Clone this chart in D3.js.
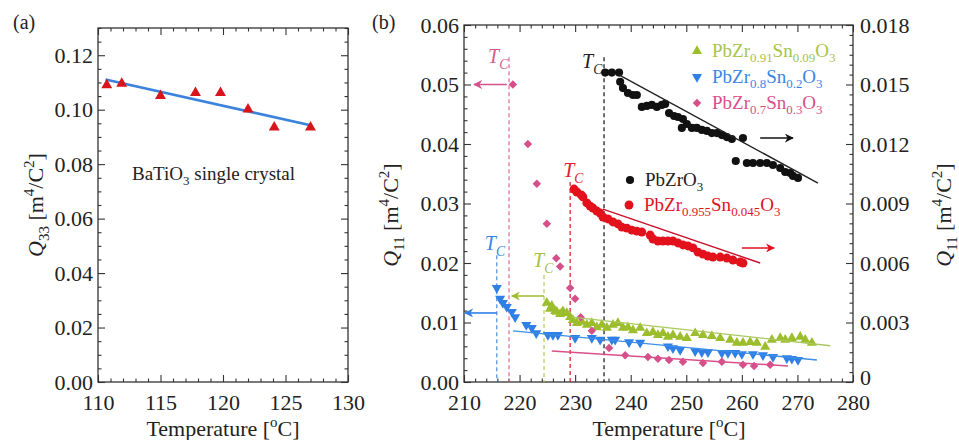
<!DOCTYPE html>
<html><head><meta charset="utf-8">
<script src="https://cdn.jsdelivr.net/npm/d3@7"></script>
<style>body{margin:0;background:#fff} svg{display:block} text{font-family:"Liberation Serif","Times New Roman",serif;fill:#222}</style>
</head><body><svg id="c" width="959" height="440"></svg>
<script>
// ---------- Panel (a) data: BaTiO3 single crystal ----------
const aTemp = [110.7, 111.9, 115.0, 117.8, 119.8, 122.0, 124.1, 127.0];
const aQ33  = [0.1090, 0.1096, 0.1051, 0.1062, 0.1062, 0.1001, 0.0935, 0.0935];
const aFitT = [110.6, 127.0];
const aFitQ = [0.1111, 0.0943];
const aXTicks = [110, 115, 120, 125, 130];
const aYTicks = [0, 0.02, 0.04, 0.06, 0.08, 0.10, 0.12];

// ---------- Panel (b) data ----------
// PbZrO3 (right axis)
const pzoT = [235.4,236.6,237.9,238.1,238.6,239.5,240.4,241.1,242.0,242.9,243.8,244.7,245.6,246.2,246.9,247.8,248.5,249.2,249.4,250.1,251.0,251.9,252.8,253.7,254.6,255.5,256.4,257.3,258.2,260.2,258.9,260.9,262.0,263.3,264.5,265.6,266.9,267.8,268.7,269.2,270.1];
const pzoQ = [0.01560,0.01560,0.01560,0.01514,0.01482,0.01457,0.01447,0.01447,0.01387,0.01392,0.01397,0.01387,0.01397,0.01402,0.01356,0.01341,0.01336,0.01281,0.01326,0.01301,0.01281,0.01281,0.01271,0.01266,0.01255,0.01255,0.01245,0.01235,0.01225,0.01230,0.01114,0.01104,0.01104,0.01104,0.01104,0.01094,0.01079,0.01059,0.01054,0.01039,0.01029];
// PbZr0.955Sn0.045O3 (right axis)
const s045T = [229.8,230.3,231.1,231.4,232.1,232.7,233.2,233.9,234.5,235.0,235.9,236.8,237.7,238.4,239.3,240.2,241.1,242.0,243.5,244.0,244.9,245.8,246.7,247.6,248.5,249.4,250.3,251.2,252.1,253.0,253.9,254.8,256.1,257.3,258.4,259.7,260.2];
const s045Q = [0.00973,0.00958,0.00943,0.00933,0.00903,0.00887,0.00877,0.00862,0.00852,0.00832,0.00822,0.00807,0.00797,0.00781,0.00776,0.00766,0.00761,0.00756,0.00741,0.00721,0.00711,0.00711,0.00711,0.00711,0.00701,0.00691,0.00686,0.00676,0.00655,0.00645,0.00635,0.00630,0.00630,0.00625,0.00615,0.00605,0.00600];
// PbZr0.91Sn0.09O3 (left axis)
const s09T = [224.9,225.5,225.8,226.4,226.7,227.3,227.8,228.5,229.1,229.6,230.3,231.2,232.1,233.0,233.9,234.8,235.7,236.8,237.7,238.6,239.5,240.4,241.7,242.9,244.0,244.9,245.8,246.7,247.6,248.9,250.1,251.6,253.0,254.6,256.1,257.9,259.1,260.2,261.5,262.7,264.2,265.4,266.9,267.8,269.0,270.5,271.4,272.6];
const s09Q = [0.0133,0.0123,0.0128,0.0119,0.0118,0.0114,0.0119,0.0116,0.0109,0.0104,0.0099,0.0101,0.0096,0.0099,0.0092,0.0096,0.0091,0.0096,0.0099,0.0091,0.0092,0.0087,0.0091,0.0082,0.0084,0.0079,0.0082,0.0076,0.0079,0.0076,0.0074,0.0082,0.0079,0.0077,0.0074,0.0071,0.0066,0.0066,0.0067,0.0066,0.0059,0.0071,0.0074,0.0071,0.0074,0.0076,0.0071,0.0066];
// PbZr0.8Sn0.2O3 (left axis)
const s20T = [215.9,216.5,217.0,217.7,218.6,219.2,221.2,222.2,223.0,225.1,226.0,226.9,230.0,233.0,234.5,236.6,237.2,239.7,241.7,246.7,247.6,248.9,251.6,252.8,253.9,256.4,257.5,258.8,260.0,262.0,263.8,265.6,268.1,269.0,270.1];
const s20Q = [0.0158,0.0140,0.0133,0.0126,0.0118,0.0109,0.0096,0.0091,0.0082,0.0079,0.0079,0.0079,0.0074,0.0074,0.0071,0.0071,0.0071,0.0067,0.0066,0.0060,0.0057,0.0054,0.0052,0.0050,0.0050,0.0049,0.0049,0.0049,0.0047,0.0047,0.0045,0.0042,0.0040,0.0039,0.0037];
// PbZr0.7Sn0.3O3 (left axis)
const s30T = [218.8,221.5,223.1,224.9,226.6,227.3,229.1,230.0,231.0,233.0,236.1,239.0,243.1,244.9,246.9,249.4,253.0,256.4,260.2,262.2,265.1];
const s30Q = [0.0500,0.0400,0.0333,0.0266,0.0208,0.0194,0.0158,0.0140,0.0109,0.0086,0.0057,0.0045,0.0042,0.0039,0.0037,0.0034,0.0032,0.0034,0.0029,0.0027,0.0029];

// linear fits [T1, T2], [Q1, Q2]
const fitPzoT = [237.9, 273.7], fitPzoQ = [0.01548, 0.01003];   // right axis
const fit045T = [235.0, 263.3], fit045Q = [0.00872, 0.00600];   // right axis
const fit09T  = [229.4, 275.9], fit09Q  = [0.0109, 0.0061];     // left axis
const fit20T  = [218.8, 273.5], fit20Q  = [0.0086, 0.0037];     // left axis
const fit30T  = [225.8, 268.3], fit30Q  = [0.0052, 0.0027];     // left axis

// Curie temperatures (order: PbZrO3, 0.045, 0.09, 0.2, 0.3) and top of dashed marker (left-axis units)
const tcT   = [235.2, 229.1, 224.4, 215.9, 218.1];
const tcTop = [0.0546, 0.0336, 0.0180, 0.0213, 0.0546];

const bXTicks  = [210, 220, 230, 240, 250, 260, 270, 280];
const bYLTicks = [0, 0.01, 0.02, 0.03, 0.04, 0.05, 0.06];
const bYRTicks = [0, 0.003, 0.006, 0.009, 0.012, 0.015, 0.018];

// ---------- drawing ----------
const svg = d3.select("#c");
const C = {black:"#111", red:"#e2111b", green:"#9cbd2c", blue:"#2f7fe6", pink:"#d5508a"};
const FS = 22;

function rich(sel, parts, size) {
  let shift = 0;
  parts.forEach(p => {
    const ts = sel.append("tspan").text(p.t);
    const target = p.sub ? size*0.28 : p.sup ? -size*0.42 : 0;
    ts.attr("dy", target - shift); shift = target;
    if (p.sub || p.sup) ts.attr("font-size", size*0.68);
    if (p.it) ts.attr("font-style", "italic");
  });
  return sel;
}
function range(a, b, step) { const n = Math.round((b-a)/step); return d3.range(n+1).map(i => +(a + i*step).toFixed(6)); }

function axes(g, x, y, xMaj, xMin, yMaj, yMin, yFmt, yR, yRMaj, yRMin, yRFmt) {
  const isMaj = (arr) => (v) => !arr.some(m => Math.abs(m-v) < 1e-9);
  const [x0, x1] = x.range(), [y0, y1] = y.range();
  const mk = (ax) => g.append("g").call(ax).call(s => s.select(".domain").remove())
      .call(s => s.selectAll("line").attr("stroke", "#333").attr("stroke-width", 1.1))
      .call(s => s.selectAll("text").attr("font-size", FS).attr("font-family", "Liberation Serif").attr("fill", "#222"));
  // bottom
  mk(d3.axisBottom(x).tickValues(xMaj).tickSize(-7).tickPadding(12)).attr("transform", `translate(0,${y0})`);
  mk(d3.axisBottom(x).tickValues(xMin.filter(isMaj(xMaj))).tickSize(-3.5).tickFormat("")).attr("transform", `translate(0,${y0})`);
  // top
  mk(d3.axisTop(x).tickValues(xMaj).tickSize(-7).tickFormat("")).attr("transform", `translate(0,${y1})`);
  mk(d3.axisTop(x).tickValues(xMin.filter(isMaj(xMaj))).tickSize(-3.5).tickFormat("")).attr("transform", `translate(0,${y1})`);
  // left
  mk(d3.axisLeft(y).tickValues(yMaj).tickSize(-7).tickPadding(5).tickFormat(yFmt)).attr("transform", `translate(${x0},0)`);
  mk(d3.axisLeft(y).tickValues(yMin.filter(isMaj(yMaj))).tickSize(-3.5).tickFormat("")).attr("transform", `translate(${x0},0)`);
  // right
  if (yR) {
    const r = mk(d3.axisRight(yR).tickValues(yRMaj).tickSize(-7).tickPadding(7).tickFormat(yRFmt)).attr("transform", `translate(${x1},0)`);
    r.selectAll("text").filter(d => d === 0).attr("dy", "0.12em");
    mk(d3.axisRight(yR).tickValues(yRMin.filter(isMaj(yRMaj))).tickSize(-3.5).tickFormat("")).attr("transform", `translate(${x1},0)`);
  } else {
    mk(d3.axisRight(y).tickValues(yMaj).tickSize(-7).tickFormat("")).attr("transform", `translate(${x1},0)`);
    mk(d3.axisRight(y).tickValues(yMin.filter(isMaj(yMaj))).tickSize(-3.5).tickFormat("")).attr("transform", `translate(${x1},0)`);
  }
  g.append("rect").attr("x", x0).attr("y", y1).attr("width", x1-x0).attr("height", y0-y1)
    .attr("fill", "none").attr("stroke", "#333").attr("stroke-width", 1.3);
}

// ===== Panel (a) =====
const ga = svg.append("g");
const xa = d3.scaleLinear().domain([110, 130]).range([98, 348]);
const ya = d3.scaleLinear().domain([0, 0.13]).range([382, 28]);
axes(ga, xa, ya, aXTicks, range(110, 130, 1), aYTicks, range(0, 0.13, 0.005), d3.format(".2f"));

ga.append("line").attr("x1", xa(aFitT[0])).attr("y1", ya(aFitQ[0])).attr("x2", xa(aFitT[1])).attr("y2", ya(aFitQ[1]))
  .attr("stroke", "#3a82dc").attr("stroke-width", 2.6);
ga.selectAll("path.tri").data(aTemp).join("path").attr("class", "tri")
  .attr("d", d3.symbol(d3.symbolTriangle, 52)())
  .attr("transform", (d, i) => `translate(${xa(d)},${ya(aQ33[i])})`)
  .attr("fill", "#d8141c");

rich(ga.append("text").attr("x", 132).attr("y", 180).attr("font-size", 19),
  [{t:"BaTiO"}, {t:"3", sub:true}, {t:" single crystal"}], 19);

ga.append("text").attr("x", 13).attr("y", 29).attr("font-size", 20).text("(a)");
rich(ga.append("text").attr("text-anchor", "middle").attr("font-size", FS)
  .attr("transform", "translate(43,205) rotate(-90)"),
  [{t:"Q", it:true}, {t:"33", sub:true}, {t:" [m"}, {t:"4", sup:true}, {t:"/C"}, {t:"2", sup:true}, {t:"]"}], FS);
rich(ga.append("text").attr("text-anchor", "middle").attr("x", 223).attr("y", 436).attr("font-size", FS),
  [{t:"Temperature ["}, {t:"o", sup:true}, {t:"C]"}], FS);

// ===== Panel (b) =====
const gb = svg.append("g");
const xb = d3.scaleLinear().domain([210, 280]).range([464, 853]);
const yL = d3.scaleLinear().domain([0, 0.06]).range([382, 25]);
const yR = d3.scaleLinear().domain([0, 0.018]).range([382, 25]);
axes(gb, xb, yL, bXTicks, range(210, 280, 2), bYLTicks, range(0, 0.06, 0.002), d3.format(".2f"),
  yR, bYRTicks, range(0, 0.018, 0.0005), d => d === 0 ? "0" : d3.format(".3f")(d));

const series = [
  {T:pzoT, Q:pzoQ, y:yR, col:C.black, sym:"circle", fT:fitPzoT, fQ:fitPzoQ, lc:"#222"},
  {T:s045T, Q:s045Q, y:yR, col:C.red, sym:"circleL", fT:fit045T, fQ:fit045Q, lc:"#c8102a"},
  {T:s09T, Q:s09Q, y:yL, col:C.green, sym:"up", fT:fit09T, fQ:fit09Q, lc:"#a9c85e"},
  {T:s20T, Q:s20Q, y:yL, col:C.blue, sym:"down", fT:fit20T, fQ:fit20Q, lc:"#3c8ee6"},
  {T:s30T, Q:s30Q, y:yL, col:C.pink, sym:"diamond", fT:fit30T, fQ:fit30Q, lc:"#d9508a"}
];
function symPath(s) {
  if (s === "circle") return d3.symbol(d3.symbolCircle, 52)();
  if (s === "circleL") return d3.symbol(d3.symbolCircle, 62)();
  if (s === "up" || s === "down") return d3.symbol(d3.symbolTriangle, 44)();
  return d3.symbol(d3.symbolSquare, 36)();
}
function symRot(s) { return s === "down" ? " rotate(180)" : s === "diamond" ? " rotate(45)" : ""; }

// Tc dashed lines
const tcCol = [C.black, C.red, "#b6cc55", "#4a8fe0", "#d86a98"];
tcT.forEach((t, i) => {
  gb.append("line").attr("x1", xb(t)).attr("x2", xb(t)).attr("y1", yL(tcTop[i])).attr("y2", yL(0))
    .attr("stroke", tcCol[i]).attr("stroke-width", 1.2).attr("stroke-dasharray", "4,3");
});

// points
series.forEach(s => {
  gb.append("g").selectAll("path").data(s.T).join("path")
    .attr("d", symPath(s.sym))
    .attr("transform", (d, i) => `translate(${xb(d)},${s.y(s.Q[i])})${symRot(s.sym)}`)
    .attr("fill", s.col);
});
// fit lines
series.forEach(s => {
  gb.append("line").attr("x1", xb(s.fT[0])).attr("y1", s.y(s.fQ[0])).attr("x2", xb(s.fT[1])).attr("y2", s.y(s.fQ[1]))
    .attr("stroke", s.lc).attr("stroke-width", 1.4);
});

// arrows
const defs = svg.append("defs");
function arrowHead(id, col) {
  defs.append("marker").attr("id", id).attr("viewBox", "0 0 10 10").attr("refX", 9).attr("refY", 5)
    .attr("markerWidth", 9).attr("markerHeight", 9).attr("markerUnits", "userSpaceOnUse").attr("orient", "auto")
    .append("path").attr("d", "M0,0 L10,5 L0,10 L3,5 Z").attr("fill", col);
}
const arrows = [
  {t0:263.3, t1:269.2, q:0.0123, y:yR, col:C.black, id:"ak"},
  {t0:260.0, t1:265.8, q:0.00676, y:yR, col:C.red, id:"ar"},
  {t0:217.7, t1:211.8, q:0.0500, y:yL, col:C.pink, id:"ap"},
  {t0:215.9, t1:210.2, q:0.0116, y:yL, col:C.blue, id:"ab"},
  {t0:224.4, t1:218.6, q:0.01445, y:yL, col:"#9cbd2c", id:"ag"}
];
arrows.forEach(a => {
  arrowHead(a.id, a.col);
  gb.append("line").attr("x1", xb(a.t0)).attr("x2", xb(a.t1)).attr("y1", a.y(a.q)).attr("y2", a.y(a.q))
    .attr("stroke", a.col).attr("stroke-width", 1.6).attr("marker-end", `url(#${a.id})`);
});

// Tc labels
const tcLab = [
  {dx:-22, y:68, col:"#222"},
  {dx:-7, y:177, col:"#e0202a"},
  {dx:-11, y:267, col:"#a7c043"},
  {dx:-12, y:250, col:"#3a86e0"},
  {dx:-21, y:63, col:"#d55a8e"}
];
tcT.forEach((t, i) => {
  rich(gb.append("text").attr("x", xb(t) + tcLab[i].dx).attr("y", tcLab[i].y).attr("font-size", 20)
    .style("fill", tcLab[i].col),
    [{t:"T", it:true}, {t:"C", sub:true, it:true}], 20);
});

// legends
function legend(x, y, sym, col, tcol, parts) {
  gb.append("path").attr("d", symPath(sym)).attr("transform", `translate(${x},${y - 6})${symRot(sym)}`).attr("fill", col);
  rich(gb.append("text").attr("x", x + 15).attr("y", y).attr("font-size", 19).style("fill", tcol), parts, 19);
}
legend(697, 57, "up", C.green, "#a8c34a", [{t:"PbZr"}, {t:"0.91", sub:true}, {t:"Sn"}, {t:"0.09", sub:true}, {t:"O"}, {t:"3", sub:true}]);
legend(697, 83, "down", C.blue, "#3a86e6", [{t:"PbZr"}, {t:"0.8", sub:true}, {t:"Sn"}, {t:"0.2", sub:true}, {t:"O"}, {t:"3", sub:true}]);
legend(697, 109, "diamond", C.pink, "#d8508a", [{t:"PbZr"}, {t:"0.7", sub:true}, {t:"Sn"}, {t:"0.3", sub:true}, {t:"O"}, {t:"3", sub:true}]);
legend(630, 186, "circle", C.black, "#222", [{t:"PbZrO"}, {t:"3", sub:true}]);
legend(629, 211, "circleL", C.red, "#e0141e", [{t:"PbZr"}, {t:"0.955", sub:true}, {t:"Sn"}, {t:"0.045", sub:true}, {t:"O"}, {t:"3", sub:true}]);

gb.append("text").attr("x", 372).attr("y", 29).attr("font-size", 20).text("(b)");
rich(gb.append("text").attr("text-anchor", "middle").attr("font-size", FS)
  .attr("transform", "translate(398,215) rotate(-90)"),
  [{t:"Q", it:true}, {t:"11", sub:true}, {t:" [m"}, {t:"4", sup:true}, {t:"/C"}, {t:"2", sup:true}, {t:"]"}], FS);
rich(gb.append("text").attr("text-anchor", "middle").attr("font-size", FS)
  .attr("transform", "translate(951,215) rotate(-90)"),
  [{t:"Q", it:true}, {t:"11", sub:true}, {t:" [m"}, {t:"4", sup:true}, {t:"/C"}, {t:"2", sup:true}, {t:"]"}], FS);
rich(gb.append("text").attr("text-anchor", "middle").attr("x", 669).attr("y", 436).attr("font-size", FS),
  [{t:"Temperature ["}, {t:"o", sup:true}, {t:"C]"}], FS);
</script></body></html>
